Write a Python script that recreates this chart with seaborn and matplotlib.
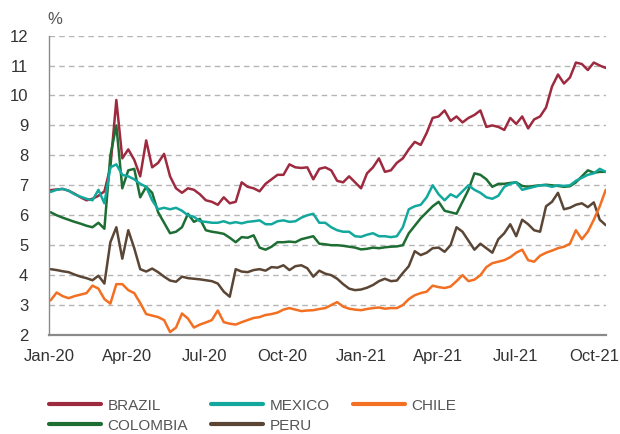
import matplotlib
matplotlib.use("Agg")
import matplotlib.pyplot as plt
import matplotlib.dates as mdates
import numpy as np
import pandas as pd
import seaborn as sns

sns.set_style("white")
plt.rcParams['font.family'] = ['Liberation Sans', 'DejaVu Sans']

# weekly readings (Fridays), Jan-2020 .. mid Oct-2021
dates = pd.date_range("2020-01-03", periods=94, freq="7D")

brazil = [6.84, 6.86, 6.88, 6.82, 6.72, 6.6, 6.5, 6.55, 6.65, 6.8,
          7.6, 9.85, 7.9, 8.2, 7.85, 7.3, 8.5, 7.6, 7.75, 8.05,
          7.3, 6.9, 6.75, 6.9, 6.85, 6.7, 6.5, 6.45, 6.35, 6.6,
          6.4, 6.45, 7.1, 6.95, 6.9, 6.8, 7.05, 7.2, 7.35, 7.35,
          7.7, 7.6, 7.58, 7.6, 7.2, 7.55, 7.6, 7.5, 7.15, 7.1,
          7.3, 7.1, 6.9, 7.4, 7.6, 7.9, 7.45, 7.5, 7.75, 7.9,
          8.2, 8.45, 8.35, 8.75, 9.25, 9.3, 9.5, 9.15, 9.3, 9.1,
          9.25, 9.35, 9.5, 8.95, 9.0, 8.95, 8.85, 9.25, 9.05, 9.3,
          8.9, 9.2, 9.3, 9.6, 10.3, 10.7, 10.4, 10.6, 11.1, 11.05,
          10.85, 11.1, 11.0, 10.92]

mexico = [6.78, 6.85, 6.88, 6.82, 6.7, 6.62, 6.55, 6.5, 6.85, 6.4,
          7.6, 7.7, 7.35, 7.3, 7.2, 7.05, 6.95, 6.5, 6.2, 6.25,
          6.2, 6.25, 6.15, 6.0, 5.95, 5.8, 5.78, 5.75, 5.75, 5.8,
          5.73, 5.77, 5.73, 5.78, 5.8, 5.83, 5.7, 5.7, 5.8, 5.83,
          5.78, 5.8, 5.92, 6.0, 6.05, 5.75, 5.75, 5.6, 5.5, 5.45,
          5.45, 5.3, 5.28, 5.35, 5.4, 5.3, 5.3, 5.27, 5.3, 5.6,
          6.2, 6.3, 6.35, 6.6, 7.0, 6.7, 6.5, 6.7, 6.6, 6.8,
          7.0, 6.85, 6.75, 6.6, 6.55, 6.65, 6.95, 7.05, 7.1, 6.85,
          6.9, 6.95, 7.0, 7.0, 6.95, 7.0, 6.98, 7.0, 7.15, 7.25,
          7.35, 7.4, 7.55, 7.45]

colombia = [6.1, 6.0, 5.92, 5.85, 5.78, 5.72, 5.65, 5.6, 5.75, 5.55,
            8.0, 9.0, 6.9, 7.5, 7.55, 6.6, 6.95, 6.75, 6.1, 5.75,
            5.4, 5.45, 5.6, 6.05, 5.78, 5.88, 5.5, 5.45, 5.42, 5.38,
            5.25, 5.1, 5.27, 5.25, 5.33, 4.92, 4.85, 4.95, 5.1, 5.1,
            5.12, 5.1, 5.2, 5.25, 5.3, 5.05, 5.03, 5.0, 5.0, 4.98,
            4.95, 4.92, 4.86, 4.88, 4.92, 4.9, 4.93, 4.95, 4.96, 5.0,
            5.4, 5.65, 5.9, 6.1, 6.3, 6.45, 6.15, 6.1, 6.05, 6.45,
            6.85, 7.4, 7.35, 7.2, 6.95, 7.05, 7.05, 7.08, 7.1, 6.98,
            6.95, 6.98, 7.0, 7.02, 7.0, 6.98, 6.95, 6.97, 7.1, 7.3,
            7.5, 7.42, 7.45, 7.45]

peru = [4.2, 4.17, 4.13, 4.1, 4.02, 3.95, 3.9, 3.83, 3.98, 3.72,
        5.1, 5.6, 4.55, 5.5, 4.9, 4.2, 4.12, 4.22, 4.1, 3.95,
        3.82, 3.78, 3.95, 3.9, 3.88, 3.86, 3.83, 3.8, 3.72, 3.45,
        3.28, 4.2, 4.12, 4.1, 4.17, 4.2, 4.15, 4.27, 4.25, 4.33,
        4.17, 4.3, 4.33, 4.23, 3.95, 4.15, 4.05, 4.0, 3.88, 3.7,
        3.55, 3.5, 3.52, 3.58, 3.67, 3.8, 3.88, 3.8, 3.82, 4.07,
        4.3, 4.8, 4.67, 4.75, 4.9, 4.92, 4.78, 5.0, 5.6, 5.45,
        5.15, 4.85, 5.05, 4.9, 4.75, 5.2, 5.4, 5.7, 5.3, 5.85,
        5.7, 5.5, 5.45, 6.3, 6.45, 6.75, 6.2, 6.25, 6.35, 6.4,
        6.27, 6.43, 5.85, 5.67]

chile = [3.16, 3.42, 3.3, 3.23, 3.3, 3.35, 3.4, 3.65, 3.55, 3.2,
         3.05, 3.7, 3.7, 3.5, 3.4, 3.07, 2.7, 2.65, 2.6, 2.5,
         2.1, 2.25, 2.72, 2.55, 2.25, 2.35, 2.42, 2.5, 2.82, 2.43,
         2.38, 2.35, 2.43, 2.5, 2.57, 2.6, 2.67, 2.7, 2.75, 2.85,
         2.9, 2.85, 2.8, 2.82, 2.83, 2.87, 2.9, 3.0, 3.1, 2.95,
         2.88, 2.85, 2.83, 2.87, 2.9, 2.92, 2.88, 2.9, 2.9, 3.0,
         3.2, 3.33, 3.4, 3.45, 3.65, 3.6, 3.57, 3.62, 3.8, 4.0,
         3.8, 3.85, 4.0, 4.27, 4.4, 4.45, 4.5, 4.6, 4.75, 4.85,
         4.5, 4.45, 4.65, 4.75, 4.82, 4.9, 4.95, 5.05, 5.5, 5.2,
         5.45, 5.85, 6.3, 6.85]

series = {"BRAZIL": brazil, "COLOMBIA": colombia, "MEXICO": mexico,
          "PERU": peru, "CHILE": chile}
colors = {"BRAZIL": "#9e2a3f", "COLOMBIA": "#1e6e34", "MEXICO": "#13a89e",
          "PERU": "#5b4636", "CHILE": "#f36f21"}

df = pd.DataFrame({"date": np.tile(dates, len(series)),
                   "country": np.repeat(list(series), len(dates)),
                   "value": np.concatenate([series[k] for k in series])})

fig = plt.figure(figsize=(6.2, 4.34), dpi=100)
ax = fig.add_axes([0.079, 0.228, 0.898, 0.69])

sns.lineplot(data=df, x="date", y="value", hue="country",
             hue_order=list(series), palette=colors, linewidth=1.8, ax=ax)

ax.set_ylim(2, 12)
ax.set_yticks(range(2, 13))
ax.set_xlim(pd.Timestamp("2020-01-01"), pd.Timestamp("2021-10-15"))
ax.xaxis.set_major_locator(mdates.MonthLocator(bymonth=[1, 4, 7, 10]))
ax.xaxis.set_major_formatter(mdates.DateFormatter("%b-%y"))
ax.set_xlabel("")
ax.set_ylabel("")

ax.yaxis.grid(True, linestyle=(0, (4, 3)), color="#b5b5b5", linewidth=1)
ax.xaxis.grid(False)
for s in ["top", "right"]:
    ax.spines[s].set_visible(False)
ax.spines["left"].set_color("#8a8a8a")
ax.spines["left"].set_linewidth(1)
ax.spines["bottom"].set_color("#8a8a8a")
ax.spines["bottom"].set_linewidth(1.6)

ax.tick_params(axis="y", length=0, pad=15, labelsize=12, labelcolor="#333333")
ax.tick_params(axis="x", direction="in", length=4.5, width=1, color="#8a8a8a",
               pad=10, labelsize=12, labelcolor="#333333")

fig.text(0.076, 0.955, "%", fontsize=12, color="#555555", va="center", ha="left")

handles, labels = ax.get_legend_handles_labels()
ax.get_legend().remove()
for h in handles:
    h.set_linewidth(3)
fig.legend(handles, labels, ncol=3, loc="upper left",
           bbox_to_anchor=(0.066, 0.099), frameon=False, borderpad=0,
           handlelength=3.4, handletextpad=0.45, columnspacing=1.5,
           labelspacing=0.4, fontsize=11, labelcolor="#555555")

fig.savefig("out.png", dpi=100)
